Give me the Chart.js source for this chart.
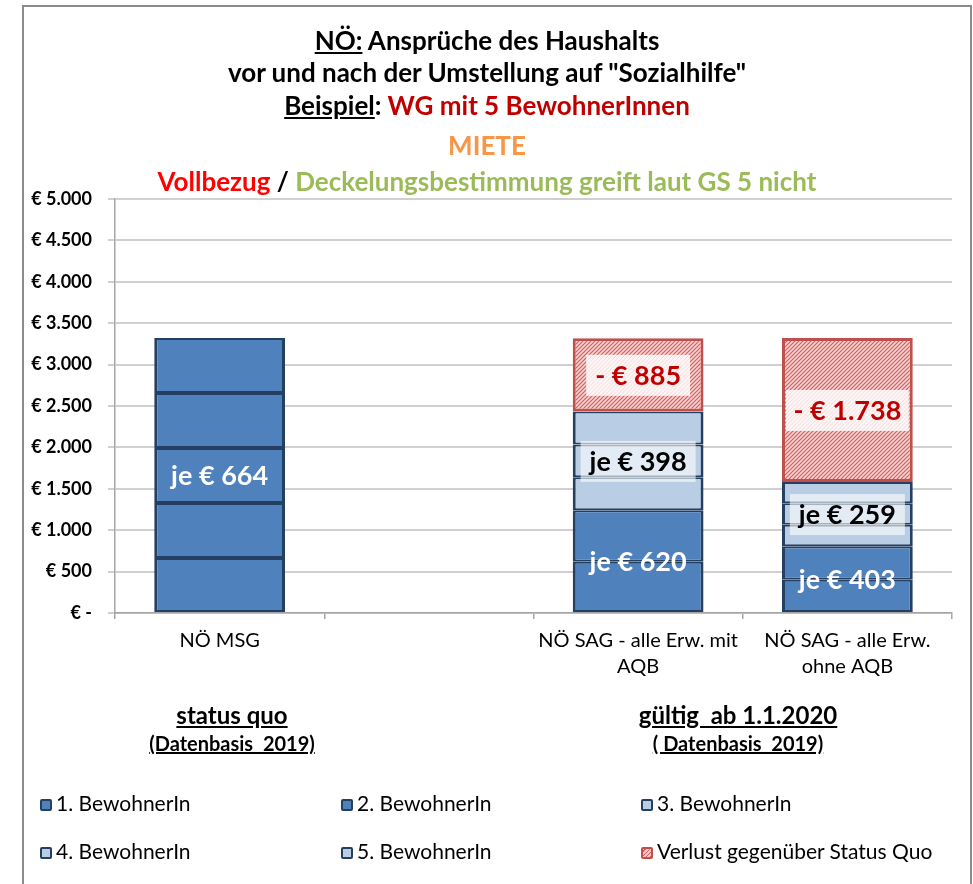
<!DOCTYPE html>
<html>
<head>
<meta charset="utf-8">
<script src="https://cdn.jsdelivr.net/npm/chart.js@4.4.1/dist/chart.umd.min.js"></script>
<style>
body { margin: 0; background: #fff; font-family: Lato, sans-serif; }
#wrap { position: relative; width: 973px; height: 884px; overflow: hidden; }
#frame { position: absolute; left: 22px; top: 5px; width: 950px; height: 900px; border: 2px solid #8c8c8c; box-sizing: border-box; }
#chart { position: absolute; left: 0; top: 0; }
.t { position: absolute; left: 0; width: 974px; text-align: center; font-weight: bold; font-size: 26px; line-height: 30px; white-space: pre; }
.u { text-decoration: underline; }
.note { position: absolute; width: 300px; text-align: center; font-weight: bold; white-space: pre; text-decoration: underline; line-height: 30px; }
.leg { position: absolute; font-size: 21px; line-height: 20px; white-space: nowrap; }
.leg i { display: inline-block; width: 12px; height: 12px; border: 2px solid #243f60; border-radius: 2px; box-sizing: border-box; vertical-align: 0px; margin-right: 4px; }
</style>
</head>
<body>
<div id="wrap">
  <div id="frame"></div>
  <canvas id="chart" width="973" height="884"></canvas>
  <div class="t" style="top:25px"><span class="u">NÖ:</span> Ansprüche des Haushalts</div>
  <div class="t" style="top:57px">vor und nach der Umstellung auf "Sozialhilfe"</div>
  <div class="t" style="top:90px"><span class="u">Beispiel</span>: <span style="color:#c00000">WG mit 5 BewohnerInnen</span></div>
  <div class="t" style="top:130px;color:#f79646">MIETE</div>
  <div class="t" style="top:166px"><span style="color:#ff0000">Vollbezug</span> / <span style="color:#9bbb59">Deckelungsbestimmung greift laut GS 5 nicht</span></div>
  <div class="note" style="left:82px;top:700px;font-size:24px">status quo</div>
  <div class="note" style="left:82px;top:728px;font-size:20px">(Datenbasis  2019)</div>
  <div class="note" style="left:588px;top:700px;font-size:24px">gültig  ab 1.1.2020</div>
  <div class="note" style="left:588px;top:728px;font-size:20px">( Datenbasis  2019)</div>
  <div id="legend"></div>
</div>
<script>
// categories (second one is an empty spacer slot)
var categories = [['NÖ MSG'], [''], ['NÖ SAG - alle Erw. mit', 'AQB'], ['NÖ SAG - alle Erw.', 'ohne AQB']];

var seriesNames = ['1. BewohnerIn', '2. BewohnerIn', '3. BewohnerIn', '4. BewohnerIn', '5. BewohnerIn', 'Verlust gegenüber Status Quo'];

var bewohner1 = [664, null, 620, 403];
var bewohner2 = [664, null, 620, 403];
var bewohner3 = [664, null, 398, 259];
var bewohner4 = [664, null, 398, 259];
var bewohner5 = [664, null, 398, 259];
var verlust = [null, null, 885, 1738];

var yTicks = [0, 500, 1000, 1500, 2000, 2500, 3000, 3500, 4000, 4500, 5000];

var mid = '#4f81bd', light = '#b9cde5', navy = '#243f60', red = '#c0504d';

function euro(v) {
    return String(v).replace(/\B(?=(\d{3})+(?!\d))/g, '.');
}

var ctx = document.getElementById('chart').getContext('2d');

function hatch() {
    var c = document.createElement('canvas');
    c.width = 4; c.height = 4;
    var x = c.getContext('2d');
    x.fillStyle = '#f6d3d2';
    x.fillRect(0, 0, 4, 4);
    x.strokeStyle = '#d65f5c';
    x.lineWidth = 1.2;
    x.beginPath();
    x.moveTo(-1, 5); x.lineTo(5, -1);
    x.moveTo(-1, 1); x.lineTo(1, -1);
    x.moveTo(3, 5); x.lineTo(5, 3);
    x.stroke();
    return ctx.createPattern(c, 'repeat');
}

var segBorder = {left: 3, right: 3, top: 2, bottom: 2};

function blueSet(i, values, fills) {
    return {
        label: seriesNames[i],
        data: values,
        backgroundColor: fills,
        borderColor: navy,
        borderWidth: segBorder,
        borderSkipped: false
    };
}

var datasets = [
    blueSet(0, bewohner1, mid),
    blueSet(1, bewohner2, mid),
    blueSet(2, bewohner3, [mid, mid, light, light]),
    blueSet(3, bewohner4, [mid, mid, light, light]),
    blueSet(4, bewohner5, [mid, mid, light, light]),
    {
        label: seriesNames[5],
        data: verlust,
        backgroundColor: hatch(),
        borderColor: red,
        borderWidth: 3,
        borderSkipped: false
    }
];

// which segment carries a label: [dataset, category, anchor, prefix, colour, box]
var segLabels = [
    [2, 0, 'center', 'je € ', '#ffffff', null],
    [0, 2, 'top', 'je € ', '#ffffff', null],
    [3, 2, 'center', 'je € ', '#000000', 'rgba(255,255,255,0.6)'],
    [5, 2, 'center', '- € ', '#c00000', 'rgba(255,255,255,0.82)'],
    [0, 3, 'top', 'je € ', '#ffffff', null],
    [3, 3, 'center', 'je € ', '#000000', 'rgba(255,255,255,0.6)'],
    [5, 3, 'center', '- € ', '#c00000', 'rgba(255,255,255,0.82)']
];

var labelPlugin = {
    id: 'segLabels',
    afterDatasetsDraw: function(chart) {
        var c = chart.ctx;
        segLabels.forEach(function(l) {
            var el = chart.getDatasetMeta(l[0]).data[l[1]];
            var val = chart.data.datasets[l[0]].data[l[1]];
            var y = l[2] === 'top' ? el.y : (el.y + el.base) / 2;
            var text = l[3] + euro(val);
            c.save();
            c.font = 'bold 27px Lato';
            var w = c.measureText(text).width;
            if (l[5]) {
                var bw = Math.min(w + 18, el.width - 8);
                c.fillStyle = l[5];
                c.fillRect(el.x - bw / 2, y - 20, bw, 41);
            }
            c.fillStyle = l[4];
            c.textAlign = 'center';
            c.textBaseline = 'middle';
            c.fillText(text, el.x, y + 1);
            c.restore();
        });
    }
};

var chart1 = new Chart(ctx, {
    type: 'bar',
    data: { labels: categories, datasets: datasets },
    options: {
        responsive: false,
        animation: false,
        layout: { padding: { left: 12, top: 199, right: 21, bottom: 0 } },
        datasets: { bar: { barPercentage: 0.625, categoryPercentage: 1 } },
        plugins: { legend: { display: false }, tooltip: { enabled: false } },
        scales: {
            x: {
                stacked: true,
                grid: { offset: true, drawOnChartArea: false, tickLength: 6, color: '#a6a6a6', lineWidth: 1.5 },
                border: { color: '#a6a6a6', width: 1.5 },
                ticks: { color: '#000', font: { family: 'Lato', size: 20, lineHeight: '26px' }, padding: 9, maxRotation: 0, autoSkip: false },
                afterFit: function(s) { s.height = 271; }
            },
            y: {
                stacked: true,
                min: 0,
                max: 5000,
                afterBuildTicks: function(s) { s.ticks = yTicks.map(function(v) { return {value: v}; }); },
                ticks: {
                    color: '#000',
                    padding: 16,
                    font: { family: 'Lato', size: 18, weight: 'bold' },
                    callback: function(v) { return v === 0 ? '€ -' : '€ ' + euro(v); }
                },
                grid: { color: '#d0d0d0', lineWidth: 2, tickLength: 7 },
                border: { color: '#a6a6a6', width: 1.5 },
                afterFit: function(s) { s.width = 103; }
            }
        }
    },
    plugins: [labelPlugin]
});

// legend laid out in three columns like the original
var legendFill = [mid, mid, light, light, light, null];
var legPos = [[40, 793], [341, 793], [641, 793], [40, 841], [341, 841], [641, 841]];
var legend = document.getElementById('legend');
chart1.data.datasets.forEach(function(ds, i) {
    var d = document.createElement('div');
    d.className = 'leg';
    d.style.left = legPos[i][0] + 'px';
    d.style.top = legPos[i][1] + 'px';
    var icon = document.createElement('i');
    if (legendFill[i]) {
        icon.style.background = legendFill[i];
    } else {
        icon.style.borderColor = red;
        icon.style.background = 'repeating-linear-gradient(-45deg, #d65f5c 0 1px, #f3c9c8 1px 3px)';
    }
    d.appendChild(icon);
    d.appendChild(document.createTextNode(ds.label));
    legend.appendChild(d);
});
</script>
</body>
</html>
